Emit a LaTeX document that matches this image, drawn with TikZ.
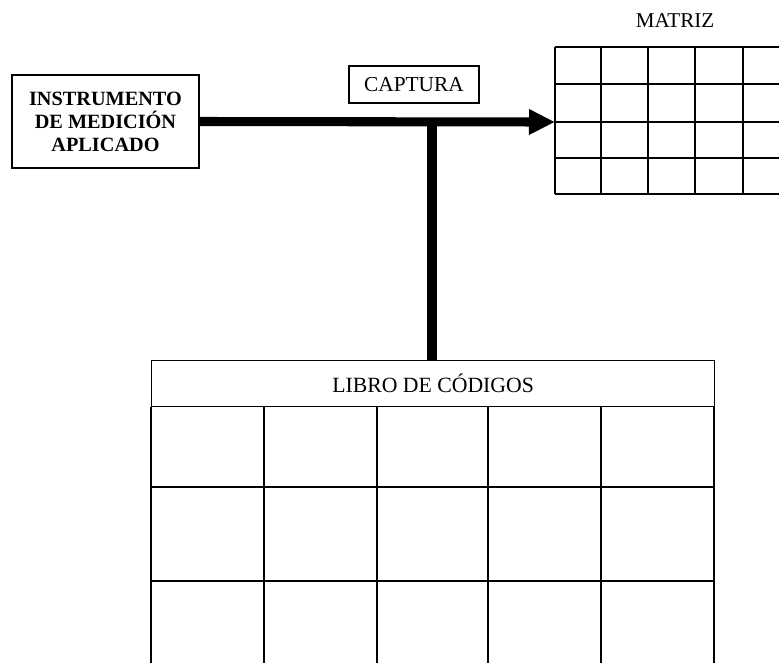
\documentclass[tikz,border=0pt]{standalone}
\usepackage{fontspec}
\setmainfont{Liberation Serif}
\usetikzlibrary{arrows.meta,positioning}

\tikzset{
  labelbox/.style={draw, line width=0.9pt, inner sep=0pt, align=center},
  flow/.style={line width=6.8pt},
  gridline/.style={line width=1.1pt},
  bookline/.style={line width=0.9pt},
}

\begin{document}
\begin{tikzpicture}[x=0.75pt,y=-0.75pt]
  \useasboundingbox (0,0) rectangle (779,662);
  \clip (0,0) rectangle (779,662);

  % source box
  \node[labelbox, font=\fontsize{15.2}{17.25}\selectfont\bfseries,
        minimum width=140.25pt, minimum height=69.75pt] (inst) at (105.5,121.5)
        {INSTRUMENTO\\DE MEDICIÓN\\APLICADO};

  % capture label
  \node[labelbox, font=\fontsize{16}{18}\selectfont,
        minimum width=97.5pt, minimum height=27.75pt] (cap) at (414,84.5) {CAPTURA};

  % data matrix
  \node[font=\fontsize{15.8}{17}\selectfont] (matlabel) at (675,21) {MATRIZ};
  \foreach \y in {47,84,122,158,194}
    \draw[gridline] (555,\y) -- (800,\y);
  \foreach \x in {555,601,648,695,743}
    \draw[gridline] (\x,47) -- (\x,194);
  \coordinate (matin) at (555,122);

  % code book
  \node[draw, bookline, font=\fontsize{16.3}{18}\selectfont, anchor=north west,
        minimum width=422.25pt, minimum height=34.5pt, inner sep=0pt] (book) at (151,360)
        {LIBRO DE CÓDIGOS};
  \foreach \y in {487,581}
    \draw[bookline] (151,\y) -- (714,\y);
  \foreach \x in {151,264,377,488,601,714}
    \draw[bookline] (book.south -| \x,0) -- (\x,700);

  % connectors
  \coordinate (junction) at (432,122);
  \draw[flow, -{Triangle[length=19.5pt,width=18pt]}] (inst.east) -- (matin);
  \draw[flow] (junction) -- (book.north -| junction);
\end{tikzpicture}
\end{document}
